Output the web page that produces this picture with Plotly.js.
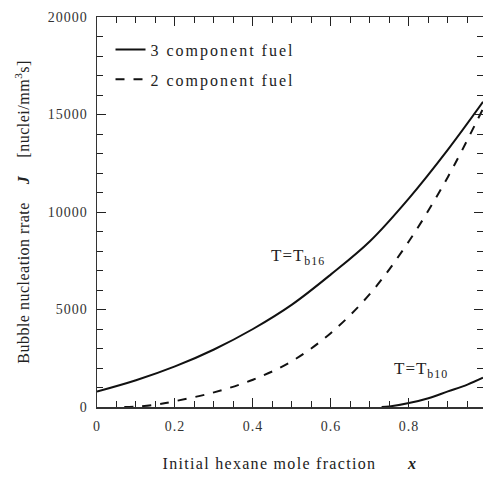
<!DOCTYPE html>
<html><head><meta charset="utf-8">
<script src="https://cdn.plot.ly/plotly-3.0.1.min.js"></script>
<style>
html,body{margin:0;padding:0;background:#fff}
.legendtext{letter-spacing:2px}
.g-xtitle text{letter-spacing:1.3px}
.g-ytitle text{letter-spacing:0.5px}
.xtick text,.ytick text{letter-spacing:1px}
.annotation-text{letter-spacing:1px}
</style>
</head><body><div id="c" style="width:483px;height:480px"></div>
<script>
const x3 = [0, 0.1, 0.2, 0.3, 0.4, 0.5, 0.6, 0.7, 0.8, 0.9, 0.99];
const y3 = [790, 1370, 2080, 2950, 4000, 5250, 6800, 8500, 10700, 13200, 15650];
const x2 = [0.07, 0.1, 0.15, 0.2, 0.3, 0.4, 0.5, 0.6, 0.7, 0.8, 0.9, 0.99];
const y2 = [0, 20, 120, 300, 750, 1400, 2350, 3800, 5800, 8500, 11800, 15300];
const xb10 = [0.73, 0.75, 0.8, 0.85, 0.9, 0.95, 0.99];
const yb10 = [0, 30, 200, 450, 800, 1150, 1500];
const names = ['3 component fuel', '2 component fuel'];
const labels = ['T=T<sub>b16</sub>', 'T=T<sub>b10</sub>'];
const xTickVals = [0, 0.2, 0.4, 0.6, 0.8];
const xTickText = ['0', '0.2', '0.4', '0.6', '0.8'];
const yTickVals = [0, 5000, 10000, 15000, 20000];
const yTickText = ['0', '5000', '10000', '15000', '20000'];
const xTitle = 'Initial hexane mole fraction      <b><i>x</i></b>';
const yTitle = 'Bubble nucleation rrate    <b><i>J</i></b>    [nuclei/mm<sup>3</sup>s]' + '\u00a0'.repeat(20);

const FF = 'Liberation Serif, Times New Roman, serif';
const ink = '#111';
const traces = [
  {x: x3, y: y3, mode: 'lines', name: names[0], legendgroup: 'a', line: {color: ink, width: 2, shape: 'spline', smoothing: 1}},
  {x: x2, y: y2, mode: 'lines', name: names[1], legendgroup: 'b', line: {color: ink, width: 2, dash: 'dash', shape: 'spline', smoothing: 1}},
  {x: xb10, y: yb10, mode: 'lines', showlegend: false, line: {color: ink, width: 2, shape: 'spline', smoothing: 1}}
];
const axBase = {showgrid: false, zeroline: false, showline: true, linecolor: '#333', linewidth: 1.5,
  ticks: 'inside', ticklen: 9, tickcolor: '#222', tickwidth: 1,
  tickfont: {family: FF, size: 14, color: '#333'}};
const layout = {
  width: 483, height: 480,
  margin: {l: 97, r: 0, t: 17, b: 73},
  font: {family: FF, color: '#222'},
  showlegend: true,
  legend: {x: 0.035, y: 0.96, xanchor: 'left', yanchor: 'top', bgcolor: 'rgba(0,0,0,0)',
    traceorder: 'grouped', tracegroupgap: 6,
    font: {family: FF, size: 16, color: '#222'}},
  xaxis: Object.assign({}, axBase, {range: [0, 0.99], tickvals: xTickVals, ticktext: xTickText, mirror: 'ticks',
    ticklabelstandoff: 6,
    minor: {dtick: 0.05, ticks: 'inside', ticklen: 6},
    title: {text: xTitle, font: {family: FF, size: 16, color: '#222'}, standoff: 24}}),
  yaxis: Object.assign({}, axBase, {range: [0, 20000], tickvals: yTickVals, ticktext: yTickText,
    mirror: 'ticks', ticklabelstandoff: 5,
    minor: {dtick: 1000, ticks: 'inside', ticklen: 6},
    title: {text: yTitle, font: {family: FF, size: 16, color: '#222'}, standoff: 14}}),
  annotations: [
    {x: 0.515, y: 7700, xref: 'x', yref: 'y', text: labels[0], showarrow: false, font: {family: FF, size: 17, color: '#222'}},
    {x: 0.83, y: 1900, xref: 'x', yref: 'y', text: labels[1], showarrow: false, font: {family: FF, size: 17, color: '#222'}}
  ]
};
Plotly.newPlot('c', traces, layout, {displayModeBar: false, staticPlot: true});
</script></body></html>
